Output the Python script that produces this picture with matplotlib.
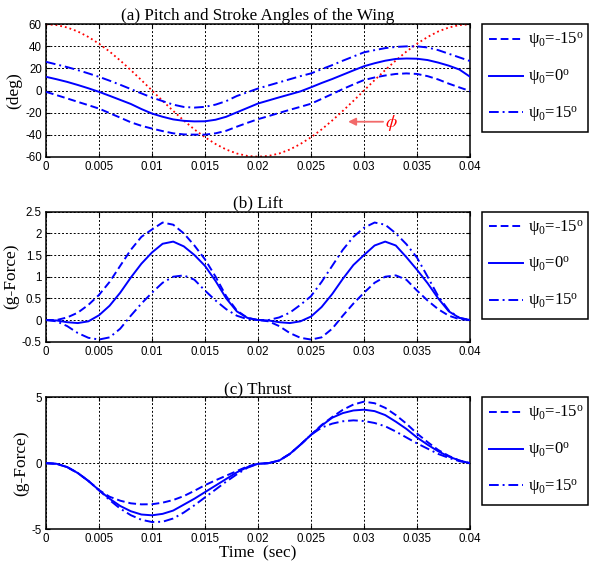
import numpy as np
import matplotlib
matplotlib.use("Agg")
import matplotlib.pyplot as plt

plt.rcParams['mathtext.fontset'] = 'custom'
plt.rcParams['mathtext.rm'] = 'Liberation Serif'
plt.rcParams['mathtext.it'] = 'Liberation Serif:italic'
plt.rcParams['axes.unicode_minus'] = False

# ---------------- data ----------------
t = [i * 0.001 for i in range(41)]

phi = [60, 59.3, 57.1, 53.5, 48.5, 42.4, 35.3, 27.2, 18.5, 9.4, 0,
       -9.4, -18.5, -27.2, -35.3, -42.4, -48.5, -53.5, -57.1, -59.3, -60,
       -59.3, -57.1, -53.5, -48.5, -42.4, -35.3, -27.2, -18.5, -9.4, 0,
       9.4, 18.5, 27.2, 35.3, 42.4, 48.5, 53.5, 57.1, 59.3, 60]

pitch_m15 = [-1.2, -4.2, -7.2, -10.3, -13.3, -16.4, -20.5, -24.6, -28.8, -32.0, -34.5,
             -36.8, -38.8, -39.8, -40.0, -40.0, -38.8, -36.5, -32.8, -29.3, -26.0,
             -23.2, -20.3, -17.5, -14.8, -12.0, -7.6, -3.2, 1.3, 5.5, 9.5,
             11.8, 13.6, 15.0, 15.5, 15.0, 13.0, 10.0, 6.2, 2.8, -0.5]
pitch_0 = [12.4, 10.2, 7.8, 5.0, 2.0, -1.2, -4.8, -8.5, -12.2, -16.8, -20.9,
           -23.8, -26.2, -27.5, -28.0, -27.9, -26.5, -23.8, -19.8, -15.8, -11.8,
           -9.0, -6.2, -3.5, -0.8, 2.9, 6.8, 10.4, 14.3, 18.2, 22.0,
           24.7, 27.0, 28.6, 29.0, 28.8, 27.6, 25.3, 22.5, 19.0, 12.5]
pitch_p15 = [26.0, 23.6, 21.2, 18.5, 15.5, 12.4, 8.9, 5.2, 1.3, -2.6, -6.4,
             -9.6, -12.8, -14.9, -15.5, -14.8, -12.8, -9.6, -5.0, -1.6, 1.8,
             4.6, 7.4, 10.2, 13.0, 15.5, 19.3, 23.0, 27.0, 30.8, 34.6,
             36.6, 38.4, 39.5, 40.0, 40.0, 39.0, 36.6, 33.3, 30.0, 26.7]

lift_m15 = [0, 0.0, 0.06, 0.17, 0.35, 0.58, 0.88, 1.25, 1.62, 1.92, 2.09,
            2.25, 2.2, 2.0, 1.72, 1.40, 1.0, 0.55, 0.22, 0.05, 0.0,
            -0.03, -0.14, -0.3, -0.41, -0.45, -0.4, -0.2, 0.1, 0.38, 0.63,
            0.86, 1.0, 1.03, 0.93, 0.68, 0.45, 0.25, 0.1, 0.02, 0.0]
lift_0 = [0, -0.01, -0.05, -0.07, -0.03, 0.11, 0.33, 0.63, 0.98, 1.3, 1.56,
          1.76, 1.81, 1.7, 1.5, 1.25, 0.9, 0.5, 0.2, 0.05, 0.0,
          -0.01, -0.05, -0.07, -0.03, 0.08, 0.3, 0.6, 0.95, 1.27, 1.5,
          1.72, 1.81, 1.72, 1.45, 1.16, 0.85, 0.5, 0.2, 0.05, 0.0]
lift_p15 = [0, -0.03, -0.14, -0.3, -0.41, -0.45, -0.4, -0.2, 0.1, 0.38, 0.63,
            0.86, 1.0, 1.03, 0.93, 0.68, 0.45, 0.25, 0.1, 0.02, 0.0,
            0.0, 0.06, 0.17, 0.35, 0.55, 0.88, 1.25, 1.62, 1.92, 2.13,
            2.25, 2.2, 2.0, 1.75, 1.44, 1.0, 0.55, 0.22, 0.05, 0.0]

thrust_m15 = [0, -0.05, -0.3, -0.75, -1.35, -2.05, -2.55, -2.85, -3.05, -3.13, -3.12,
              -3.0, -2.8, -2.5, -2.1, -1.67, -1.3, -0.95, -0.6, -0.25, -0.05,
              0.0, 0.2, 0.7, 1.4, 2.15, 2.9, 3.5, 4.05, 4.45, 4.67,
              4.55, 4.2, 3.65, 3.0, 2.25, 1.6, 1.0, 0.55, 0.2, 0.0]
thrust_0 = [0, -0.05, -0.3, -0.75, -1.35, -2.05, -2.7, -3.25, -3.65, -3.9, -3.96,
            -3.85, -3.6, -3.15, -2.7, -2.2, -1.7, -1.2, -0.7, -0.3, -0.05,
            0.0, 0.2, 0.7, 1.4, 2.15, 2.85, 3.45, 3.8, 4.0, 4.06,
            3.95, 3.65, 3.15, 2.6, 1.95, 1.4, 0.9, 0.5, 0.2, 0.0]
thrust_p15 = [0, -0.05, -0.3, -0.75, -1.35, -2.05, -2.8, -3.45, -3.95, -4.3, -4.47,
              -4.45, -4.2, -3.75, -3.2, -2.6, -2.0, -1.4, -0.85, -0.35, -0.05,
              0.0, 0.2, 0.7, 1.4, 2.15, 2.7, 3.0, 3.18, 3.25, 3.2,
              3.05, 2.8, 2.4, 1.95, 1.5, 1.1, 0.7, 0.4, 0.15, 0.0]

xticks = [0, 0.005, 0.01, 0.015, 0.02, 0.025, 0.03, 0.035, 0.04]
xticklabels = ['0', '0.005', '0.01', '0.015', '0.02', '0.025', '0.03', '0.035', '0.04']
labels = [r'ψ$_0$=-15$^\mathrm{o}$', r'ψ$_0$=0$^\mathrm{o}$', r'ψ$_0$=15$^\mathrm{o}$']
titles = ['(a) Pitch and Stroke Angles of the Wing', '(b) Lift', '(c) Thrust']
ylabels = ['(deg)', '(g-Force)', '(g-Force)']

# ---------------- figure ----------------
W, H = 589, 572
fig = plt.figure(figsize=(W / 100, H / 100), dpi=100)

def fr(x0, y0, x1, y1):
    return [x0 / W, 1 - y1 / H, (x1 - x0) / W, (y1 - y0) / H]

axes_px = [(46, 24.3, 470, 156.7), (46, 211.7, 470, 341.7), (46, 397.3, 470, 529)]
leg_px = [(481.7, 24.3, 587.5, 131.7), (481.7, 211.7, 587.5, 319.3), (481.7, 397.3, 587.5, 504.3)]

blue = '#0000ff'
serif = 'Liberation Serif'
sans = 'Liberation Sans'

series = [
    (pitch_m15, pitch_0, pitch_p15, (-60, 60), [-60, -40, -20, 0, 20, 40, 60], None),
    (lift_m15, lift_0, lift_p15, (-0.5, 2.5), [-0.5, 0, 0.5, 1, 1.5, 2, 2.5],
     ['-0.5', '0', '0.5', '1', '1.5', '2', '2.5']),
    (thrust_m15, thrust_0, thrust_p15, (-5, 5), [-5, 0, 5], None),
]

for i, (ym, y0, yp, ylim, yt, ytl) in enumerate(series):
    ax = fig.add_axes(fr(*axes_px[i]))
    if i == 0:
        ax.plot(t, phi, color='red', linestyle=':', linewidth=1.3, zorder=2)
    l1, = ax.plot(t, ym, color=blue, linestyle='--', linewidth=1.4, dashes=(4, 2), zorder=3)
    l2, = ax.plot(t, y0, color=blue, linestyle='-', linewidth=1.4, zorder=3)
    l3, = ax.plot(t, yp, color=blue, linestyle='-.', linewidth=1.4, dashes=(5, 2, 1, 2), zorder=3)
    ax.set_xlim(0, 0.04)
    ax.set_ylim(*ylim)
    ax.set_xticks(xticks)
    ax.set_xticklabels(xticklabels)
    ax.set_yticks(yt)
    if ytl is not None:
        ax.set_yticklabels(ytl)
    ax.grid(True, color='black', linestyle=(0, (2, 2)), linewidth=0.7)
    ax.tick_params(direction='in', length=3, top=True, right=True, labelsize=8.3, pad=3)
    for lab in ax.get_xticklabels() + ax.get_yticklabels():
        lab.set_fontfamily(sans)
    for sp in ax.spines.values():
        sp.set_linewidth(1.1)
    ax.set_title(titles[i], fontfamily=serif, fontsize=12.3, pad=3)
    ax.set_ylabel(ylabels[i], fontfamily=serif, fontsize=12.5, labelpad=2)
    if i == 2:
        ax.set_xlabel('Time  (sec)', fontfamily=serif, fontsize=12.3, labelpad=0)
    if i == 0:
        ax.annotate('', xy=(0.0285, -28.3), xytext=(0.0318, -28.3),
                    arrowprops=dict(arrowstyle='-|>', color='#f26a6a', lw=1.3,
                                    mutation_scale=11, shrinkA=0, shrinkB=0))
        ax.text(0.0326, -29.5, r'$\phi$', color='red', fontsize=13,
                math_fontfamily='stix', ha='center', va='center')

    lx0, ly0, lx1, ly1 = leg_px[i]
    leg = ax.legend([l1, l2, l3], labels, loc='upper left',
                    bbox_to_anchor=(lx0 / W, 1 - ly0 / H, (lx1 - lx0) / W, 0),
                    bbox_transform=fig.transFigure, mode='expand',
                    prop={'family': serif, 'size': 12}, frameon=True, fancybox=False,
                    borderaxespad=0, handlelength=2.05, handletextpad=0.3,
                    labelspacing=1.0, borderpad=0.42)
    leg.get_frame().set_edgecolor('black')
    leg.get_frame().set_linewidth(1.1)
    leg.get_frame().set_alpha(1)

fig.savefig('out.png', dpi=100, facecolor='white')
